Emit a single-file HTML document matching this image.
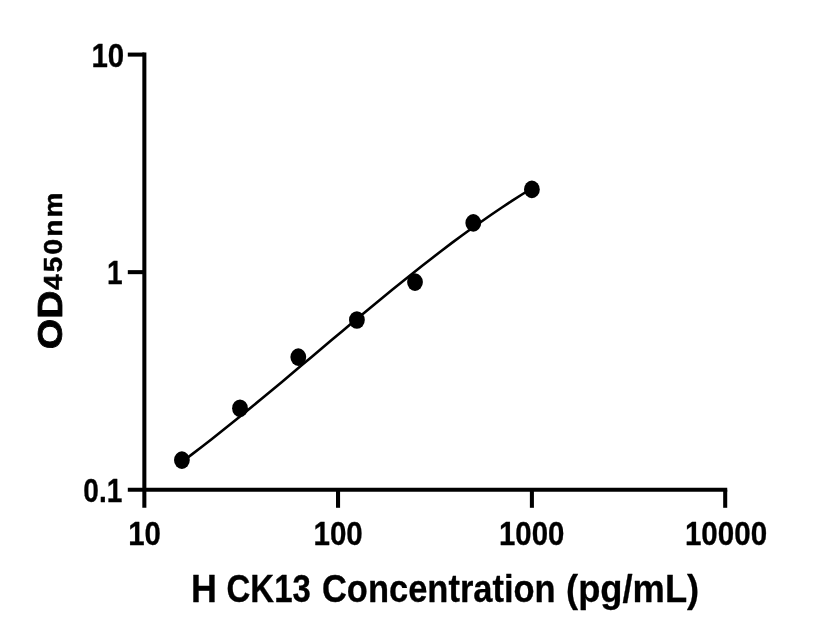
<!DOCTYPE html>
<html lang="en"><head><meta charset="utf-8"><title>H CK13 standard curve</title>
<style>
html,body{margin:0;padding:0;background:#fff;}
body{width:816px;height:640px;overflow:hidden;}
svg{display:block;}
text{font-family:"Liberation Sans", sans-serif;font-weight:700;fill:#000;stroke:#000;stroke-linejoin:round;}
</style></head><body>
<svg width="816" height="640" viewBox="0 0 816 640">
<rect width="816" height="640" fill="#fff"/>
<g stroke="#000" stroke-width="4.05" fill="none" stroke-linecap="butt">
<path d="M144.35,52.58 V507.8"/>
<path d="M127.8,489.7 H727.23"/>
<path d="M127.8,54.6 H144.35"/>
<path d="M127.8,272.15 H144.35"/>
<path d="M338.05,489.7 V507.8"/>
<path d="M531.9,489.7 V507.8"/>
<path d="M725.2,489.7 V507.8"/>
</g>
<path d="M181.9,462.0 L191.9,454.4 L201.9,446.8 L211.9,439.0 L221.9,431.0 L231.9,423.0 L241.9,414.9 L251.9,406.7 L261.9,398.5 L271.9,390.2 L281.9,381.9 L291.9,373.5 L301.9,365.1 L311.9,356.7 L321.9,348.2 L331.9,339.8 L341.9,331.4 L351.9,323.0 L361.9,314.7 L371.9,306.4 L381.9,298.2 L391.9,290.0 L401.9,281.9 L411.9,273.9 L421.9,266.0 L431.9,258.2 L441.9,250.5 L451.9,242.9 L461.9,235.5 L471.9,228.3 L481.9,221.2 L491.9,214.2 L501.9,207.5 L511.9,200.9 L521.9,194.5 L531.9,188.4" fill="none" stroke="#000" stroke-width="2.6" stroke-linejoin="round"/>
<g fill="#000">
<ellipse cx="181.9" cy="460.1" rx="7.9" ry="8.8"/>
<ellipse cx="240.0" cy="408.25" rx="7.9" ry="8.8"/>
<ellipse cx="298.3" cy="357.1" rx="7.9" ry="8.8"/>
<ellipse cx="356.9" cy="320.0" rx="7.9" ry="8.8"/>
<ellipse cx="415.0" cy="282.1" rx="7.9" ry="8.8"/>
<ellipse cx="473.3" cy="222.9" rx="7.9" ry="8.8"/>
<ellipse cx="531.9" cy="189.4" rx="7.9" ry="8.8"/>
</g>
<g>
<text id="ty10" font-size="33" stroke-width="0.3" transform="translate(91.43,66.72) scale(0.8931,1.0276)">10</text>
<text id="ty1" font-size="33" stroke-width="0.3" transform="translate(107.00,283.88) scale(0.8500,1.0327)">1</text>
<text id="ty01" font-size="33" stroke-width="0.3" transform="translate(83.30,501.85) scale(0.8500,1.0298)">0.1</text>
<text id="tx10" font-size="33" stroke-width="0.3" transform="translate(128.20,544.68) scale(0.8915,1.0107)">10</text>
<text id="tx100" font-size="33" stroke-width="0.3" transform="translate(313.45,544.68) scale(0.8963,1.0107)">100</text>
<text id="tx1000" font-size="33" stroke-width="0.3" transform="translate(498.97,544.68) scale(0.8909,1.0107)">1000</text>
<text id="tx10000" font-size="33" stroke-width="0.3" transform="translate(684.88,544.68) scale(0.8972,1.0107)">10000</text>
<text id="xl1" font-size="37.5" stroke-width="0.3" transform="translate(191.08,602.30) scale(0.9563,1.0506)">H</text>
<text id="xl2" font-size="37.5" stroke-width="0.3" transform="translate(226.50,602.30) scale(0.8799,1.0506)">CK13</text>
<text id="xl3" font-size="37.5" stroke-width="0.3" transform="translate(321.95,602.30) scale(0.9199,1.0506)">Concentration</text>
<text id="xl4" font-size="37.5" stroke-width="0.3" transform="translate(566.07,602.30) scale(0.9690,1.0506)">(pg/mL)</text>
<text id="yl1" font-size="35" stroke-width="0.8" transform="translate(62.02,349.23) rotate(-90) scale(1.1169,1.0022)">OD</text>
<text id="yl2" font-size="26.5" stroke-width="0.5" letter-spacing="2.0" transform="translate(61.87,290.02) rotate(-90) scale(1.0587,0.9816)">450nm</text>
</g>
</svg>
</body></html>
